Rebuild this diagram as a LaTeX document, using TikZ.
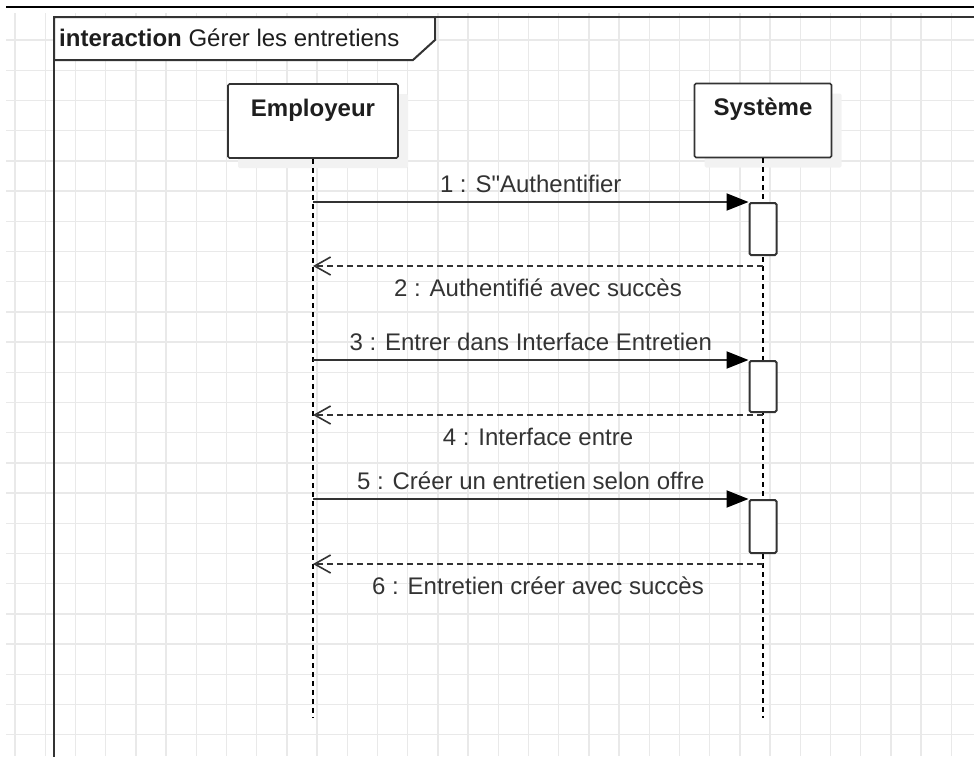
\documentclass[tikz,border=0pt]{standalone}
\usepackage{fontspec}
\setmainfont{Liberation Sans}[Ligatures=TeXOff]
\usepackage{xcolor}
\usetikzlibrary{arrows.meta,positioning,shadows}
\definecolor{GridLight}{HTML}{E9E9E9}
\definecolor{LineDark}{HTML}{333333}
\definecolor{TextDark}{HTML}{1E1E1E}
\definecolor{ShadowLight}{HTML}{F2F2F2}

\begin{document}
\begin{tikzpicture}[
  x=1pt, y=-1pt,
  font=\fontsize{24}{28}\selectfont,
  text=TextDark,
  grid/.style={GridLight, line width=1.4pt},
  head/.style={draw=LineDark, fill=white, line width=1.6pt, rounded corners=1.5pt, inner sep=0pt, align=center, font=\fontsize{24}{28}\selectfont\bfseries, text height=32pt, text depth=42pt, drop shadow={shadow xshift=10pt, shadow yshift=-10pt, fill=ShadowLight, opacity=1}},
  act/.style={draw=LineDark, fill=white, line width=2pt, rounded corners=1.5pt, minimum width=27pt, inner sep=0pt},
  lifeline/.style={black, line width=1.5pt, dash pattern=on 5pt off 4pt},
  msg/.style={LineDark, line width=2pt, -{Triangle[length=22pt,width=17pt,fill=black,color=black]}},
  ret/.style={LineDark, line width=2pt, dash pattern=on 6pt off 4pt, -{Straight Barb[length=16pt,width=18pt,line width=1.6pt]}},
  lbl/.style={midway, inner sep=0pt, text height=17pt, text depth=5pt}
]
\useasboundingbox (0,0) rectangle (974,756);
\clip (0,0) rectangle (974,756);

% Grid
\foreach \i in {0,...,32}
  \draw[grid] ({15+30.2*\i},13) -- ({15+30.2*\i},756);
\foreach \j in {0,...,23}
  \draw[grid] (6,{40+30.2*\j}) -- (974,{40+30.2*\j});

% Frame
\draw[black, line width=1.6pt] (6,7) -- (974,7);
\draw[LineDark, line width=2.6pt] (54,760) -- (54,17) -- (980,17);
\draw[LineDark, fill=white, line width=2pt] (54,17) -- (435,17) -- (435,40) -- (413,60) -- (54,60) -- cycle;
\node[anchor=base west, inner sep=0pt] (title) at (59,46.5) {\textbf{interaction} Gérer les entretiens};

% Lifelines
\node[head, text width=170pt] (emp) at (313,121) {Employeur};
\node[head, text width=137pt] (sys) at (763,120.5) {Système};
\coordinate (empEnd) at (313,718);
\coordinate (sysEnd) at (763,718);
\draw[lifeline] (emp.south) -- (empEnd);
\draw[lifeline] (sys.south) -- (sysEnd);

% Activations
\node[act, minimum height=52pt] (a1) at (763,229) {};
\node[act, minimum height=51pt] (a2) at (763,386.5) {};
\node[act, minimum height=53pt] (a3) at (763,526.5) {};

% Messages
\draw[msg] (emp.south |- a1.north west) -- node[lbl, above=4pt] {1 : S"Authentifier} (a1.north west);
\coordinate (r1) at ([yshift=-10pt]a1.south);
\draw[ret] (r1) -- node[lbl, below=12.6pt] {2 : Authentifié avec succès} (emp.south |- r1);

\draw[msg] (emp.south |- a2.north west) -- node[lbl, above=4pt] {3 : Entrer dans Interface Entretien} (a2.north west);
\coordinate (r2) at ([yshift=-2pt]a2.south);
\draw[ret] (r2) -- node[lbl, below=12.6pt] {4 : Interface entre} (emp.south |- r2);

\draw[msg] (emp.south |- a3.north west) -- node[lbl, above=4pt] {5 : Créer un entretien selon offre} (a3.north west);
\coordinate (r3) at ([yshift=-10pt]a3.south);
\draw[ret] (r3) -- node[lbl, below=12.6pt] {6 : Entretien créer avec succès} (emp.south |- r3);

\end{tikzpicture}
\end{document}
